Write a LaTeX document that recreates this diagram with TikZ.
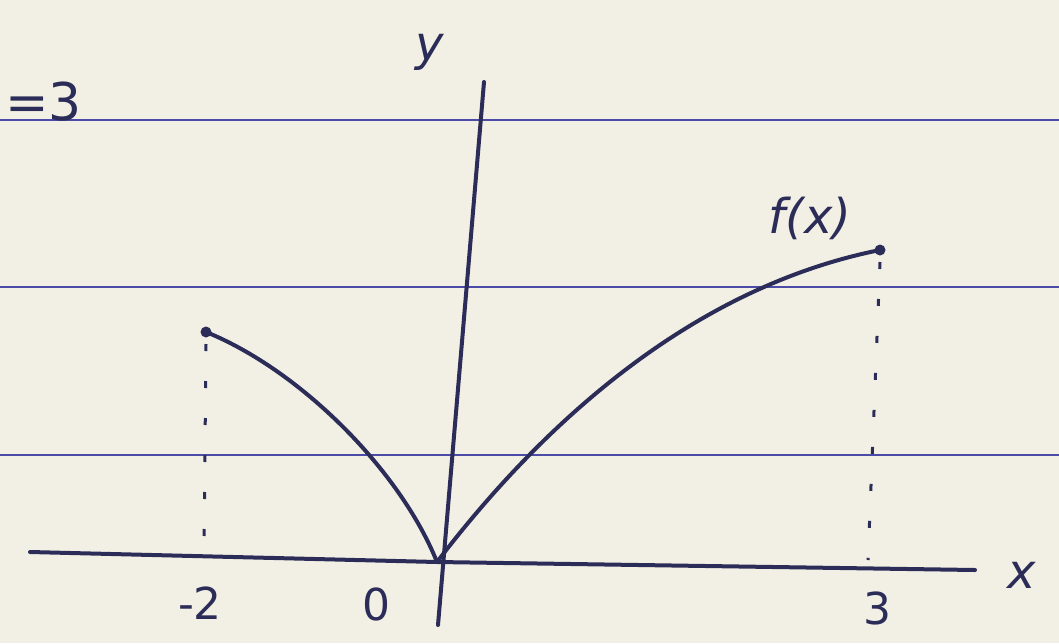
\documentclass[tikz,border=0pt]{standalone}
\usepackage{fontspec}
\setmainfont{DejaVu Sans}
\begin{document}
\begin{tikzpicture}[x=1pt,y=-1pt,
  pen/.style={draw=penc, line width=4pt, line cap=round, line join=round},
  rule/.style={draw=rulec, line width=2.6pt},
  guide/.style={draw=penc, line width=3pt, dash pattern=on 7pt off 30pt},
  lbl/.style={text=penc, font=\fontsize{48}{48}\selectfont\itshape, inner sep=0pt},
  pt/.style={circle, fill=penc, minimum size=11pt, inner sep=0pt}]
\definecolor{paper}{HTML}{F2F0E4}
\definecolor{rulec}{HTML}{4C4CA8}
\definecolor{penc}{HTML}{2C2C58}
\useasboundingbox (0,0) rectangle (1059,643);
\fill[paper] (0,0) rectangle (1059,643);
% ruled lines
\coordinate (r1a) at (0,120); \coordinate (r1b) at (1059,120);
\coordinate (r2a) at (0,287); \coordinate (r2b) at (1059,287);
\coordinate (r3a) at (0,455); \coordinate (r3b) at (1059,455);
\draw[rule] (r1a) -- (r1b);
\draw[rule] (r2a) -- (r2b);
\draw[rule] (r3a) -- (r3b);
% top-left fragment
\node[lbl, font=\fontsize{52}{52}\selectfont, anchor=east] (eq) at (82,102) {=3};
% axes
\coordinate (O) at (437,562);
\coordinate (xl) at (30,552);
\coordinate (xr) at (975,570);
\coordinate (yb) at (438,625);
\coordinate (yt) at (484,82);
\draw[pen] (xl) -- (O) -- (xr);
\draw[pen] (yb) -- (yt);
\node[lbl] (ylab) at (430,52) {y};
\node[lbl] (xlab) at (1022,575) {x};
\node[lbl, font=\fontsize{44}{44}\selectfont] (m2) at (200,603) {-2};
\node[lbl, font=\fontsize{44}{44}\selectfont] (zero) at (376,604) {0};
\node[lbl, font=\fontsize{44}{44}\selectfont] (three) at (877,608) {3};
% end points
\node[pt] (A) at (206,332) {};
\node[pt] (B) at (880,250) {};
% curves
\draw[pen] (A.center) .. controls (300,370) and (400,470) .. (O);
\draw[pen] (O) .. controls (530,440) and (680,290) .. (B.center);
% guides
\coordinate (Ab) at (204,550);
\coordinate (Bb) at (868,560);
\draw[guide] ([yshift=-12pt]A.center) -- (Ab);
\draw[guide] ([yshift=-12pt]B.center) -- (Bb);
\node[lbl] (f) at (810,218) {f(x)};
\end{tikzpicture}
\end{document}
